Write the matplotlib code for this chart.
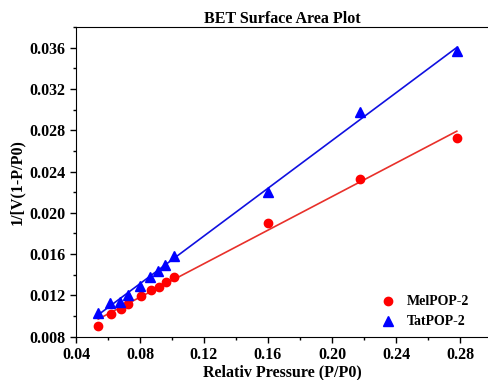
import numpy as np
import matplotlib
matplotlib.use("Agg")
from matplotlib import pyplot as plt
from matplotlib.ticker import MultipleLocator

# data
mel_x = [0.0539, 0.0619, 0.0679, 0.0727, 0.0804, 0.0869, 0.0919, 0.0961, 0.1013, 0.1600, 0.2175, 0.2780]
mel_y = [0.00904, 0.01020, 0.01066, 0.01114, 0.01195, 0.01253, 0.01285, 0.01331, 0.01382, 0.01906, 0.02327, 0.02725]
tat_x = [0.0536, 0.0614, 0.0673, 0.0723, 0.0800, 0.0863, 0.0914, 0.0959, 0.1011, 0.1600, 0.2175, 0.2780]
tat_y = [0.01027, 0.01130, 0.01140, 0.01207, 0.01292, 0.01382, 0.01437, 0.01498, 0.01586, 0.02197, 0.02980, 0.03565]

plt.rcParams['font.family'] = ['Liberation Serif', 'DejaVu Serif']
plt.rcParams['font.weight'] = 'bold'

fig = plt.figure(figsize=(4.88, 3.8), dpi=100)
ax = fig.add_axes([76/488, 43.3/380, 1 - 76/488, (336.7 - 27)/380])

def fit_line(x, y):
    k, m = np.polyfit(x, y, 1)
    xs = np.array([min(x), max(x)])
    return xs, k*xs + m

xs, ys = fit_line(mel_x, mel_y)
ax.plot(xs, ys, color='#e8302a', lw=1.2)
xs, ys = fit_line(tat_x, tat_y)
ax.plot(xs, ys, color='#1010e0', lw=1.2)

ax.plot(mel_x, mel_y, 'o', color='#ff0000', ms=6, label='MelPOP-2')
ax.plot(tat_x, tat_y, '^', color='#0000ff', ms=6.5, label='TatPOP-2')

ax.set_xlim(0.04, 0.2975)
ax.set_ylim(0.008, 0.038)
ax.xaxis.set_major_locator(MultipleLocator(0.04))
ax.xaxis.set_minor_locator(MultipleLocator(0.02))
ax.yaxis.set_major_locator(MultipleLocator(0.004))
ax.yaxis.set_minor_locator(MultipleLocator(0.002))
ax.xaxis.set_major_formatter(lambda v, p: "{:.2f}".format(v))
ax.yaxis.set_major_formatter(lambda v, p: "{:.3f}".format(v))
ax.tick_params(which='both', direction='out', labelsize=11.5, width=1)
ax.tick_params(which='major', length=4)
ax.tick_params(which='minor', length=2.5)
ax.spines['right'].set_visible(False)

ax.set_title('BET Surface Area Plot', fontsize=11.5, fontweight='bold', pad=3)
ax.set_xlabel('Relativ Pressure (P/P0)', fontsize=11.5, fontweight='bold', labelpad=1)
ax.set_ylabel('1/[V(1-P/P0)', fontsize=11.5, fontweight='bold', labelpad=3)

ax.legend(loc='lower right', frameon=False, fontsize=10, handletextpad=0.4,
          bbox_to_anchor=(0.975, 0.0), borderaxespad=0.2)

fig.savefig('out.png', dpi=100)
